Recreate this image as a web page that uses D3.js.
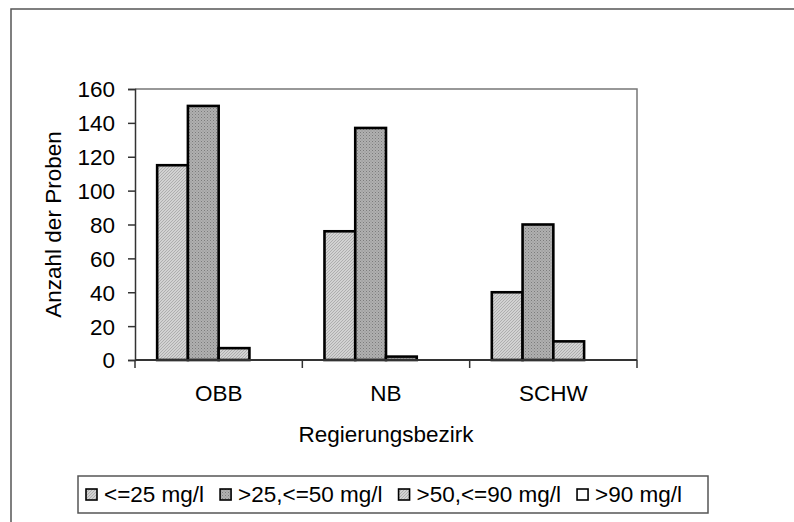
<!DOCTYPE html>
<html>
<head>
<meta charset="utf-8">
<script src="https://cdn.jsdelivr.net/npm/d3@7"></script>
<style>
  body { margin: 0; background: #fff; }
  svg text { font-family: "Liberation Sans", Arial, sans-serif; fill: #000; }
</style>
</head>
<body>
<div id="chart"></div>
<script>
// data
const regions = ["OBB", "NB", "SCHW"];
const seriesNames = ["<=25 mg/l", ">25,<=50 mg/l", ">50,<=90 mg/l", ">90 mg/l"];
const low = [115, 76, 40];
const mid = [150, 137, 80];
const high = [7, 2, 11];
const veryHigh = [0, 0, 0];
const yTicks = [0, 20, 40, 60, 80, 100, 120, 140, 160];

const seriesValues = [low, mid, high, veryHigh];
const fills = ["url(#hatchLight)", "url(#dotDark)", "url(#hatchLight)", "#ffffff"];

const width = 794, height = 522;
const plot = { left: 135, right: 637, top: 89, bottom: 360 };
const fontSize = "22.5px";

const svg = d3.select("#chart").append("svg")
    .attr("width", width)
    .attr("height", height);

// fill patterns like the old office charts
const defs = svg.append("defs");
const p1 = defs.append("pattern")
    .attr("id", "hatchLight")
    .attr("patternUnits", "userSpaceOnUse")
    .attr("width", 3).attr("height", 3);
p1.append("rect").attr("width", 3).attr("height", 3).attr("fill", "#d2d2d2");
p1.append("path").attr("d", "M0,3 L3,0").attr("stroke", "#a4a4a4").attr("stroke-width", 0.8);

const p2 = defs.append("pattern")
    .attr("id", "dotDark")
    .attr("patternUnits", "userSpaceOnUse")
    .attr("width", 3).attr("height", 3);
p2.append("rect").attr("width", 3).attr("height", 3).attr("fill", "#b0b0b0");
p2.append("rect").attr("x", 0).attr("y", 0).attr("width", 1).attr("height", 1).attr("fill", "#7c7c7c");
p2.append("rect").attr("x", 1.5).attr("y", 1.5).attr("width", 1).attr("height", 1).attr("fill", "#8c8c8c");

// outer frame (runs off the right and bottom edges)
svg.append("rect")
    .attr("x", 11).attr("y", 9)
    .attr("width", 900).attr("height", 700)
    .attr("fill", "none")
    .attr("stroke", "#555")
    .attr("stroke-width", 1.5);

const x = d3.scaleBand()
    .domain(regions)
    .range([plot.left, plot.right])
    .padding(0);

const xs = d3.scaleBand()
    .domain(d3.range(seriesNames.length))
    .range([0, x.bandwidth()])
    .paddingInner(0)
    .paddingOuter(0.72);

const y = d3.scaleLinear()
    .domain([0, 160])
    .range([plot.bottom, plot.top]);

// plot area border (top and right)
svg.append("path")
    .attr("d", `M${plot.left},${plot.top} H${plot.right} V${plot.bottom}`)
    .attr("fill", "none")
    .attr("stroke", "#777")
    .attr("stroke-width", 1.5);

// bars
seriesValues.forEach((vals, si) => {
    svg.append("g")
        .selectAll("rect")
        .data(vals)
        .enter()
        .append("rect")
        .attr("x", (d, i) => x(regions[i]) + xs(si))
        .attr("y", d => y(d))
        .attr("width", xs.bandwidth())
        .attr("height", d => y(0) - y(d))
        .attr("fill", fills[si])
        .attr("stroke", "#000")
        .attr("stroke-width", d => d > 0 ? 2.6 : 0);
});

// y axis
const yAxis = svg.append("g")
    .attr("transform", `translate(${plot.left},0)`)
    .call(d3.axisLeft(y).tickValues(yTicks).tickSize(7).tickPadding(13));
yAxis.selectAll("text").style("font-size", fontSize).attr("dy", "0.35em");
yAxis.select(".domain").attr("stroke", "#333").attr("stroke-width", 1.5);
yAxis.selectAll(".tick line").attr("stroke", "#333").attr("stroke-width", 1.5);

// x axis: ticks at the category boundaries
const bounds = regions.map(r => x(r)).concat([plot.right]);
svg.append("line")
    .attr("x1", plot.left).attr("x2", plot.right)
    .attr("y1", plot.bottom).attr("y2", plot.bottom)
    .attr("stroke", "#333").attr("stroke-width", 2);
svg.append("g")
    .selectAll("line")
    .data(bounds)
    .enter()
    .append("line")
    .attr("x1", d => d).attr("x2", d => d)
    .attr("y1", plot.bottom).attr("y2", plot.bottom + 8)
    .attr("stroke", "#333").attr("stroke-width", 1.5);

svg.append("g")
    .selectAll("text")
    .data(regions)
    .enter()
    .append("text")
    .attr("x", d => x(d) + x.bandwidth() / 2)
    .attr("y", 401)
    .attr("text-anchor", "middle")
    .style("font-size", fontSize)
    .text(d => d);

// axis titles
svg.append("text")
    .attr("x", (plot.left + plot.right) / 2)
    .attr("y", 442)
    .attr("text-anchor", "middle")
    .style("font-size", fontSize)
    .text("Regierungsbezirk");

svg.append("text")
    .attr("transform", `translate(61,${(plot.top + plot.bottom) / 2}) rotate(-90)`)
    .attr("text-anchor", "middle")
    .style("font-size", fontSize)
    .text("Anzahl der Proben");

// legend
const legend = svg.append("g");
legend.append("rect")
    .attr("x", 78).attr("y", 476)
    .attr("width", 630).attr("height", 37)
    .attr("fill", "#fff")
    .attr("stroke", "#555")
    .attr("stroke-width", 1.5);

let lx = 86;
seriesNames.forEach((name, si) => {
    legend.append("rect")
        .attr("x", lx).attr("y", 489)
        .attr("width", 11).attr("height", 11)
        .attr("fill", fills[si])
        .attr("stroke", "#000")
        .attr("stroke-width", 1.6);
    const t = legend.append("text")
        .attr("x", lx + 18)
        .attr("y", 502)
        .style("font-size", fontSize)
        .text(name);
    lx += 18 + t.node().getComputedTextLength() + 16;
});
</script>
</body>
</html>
